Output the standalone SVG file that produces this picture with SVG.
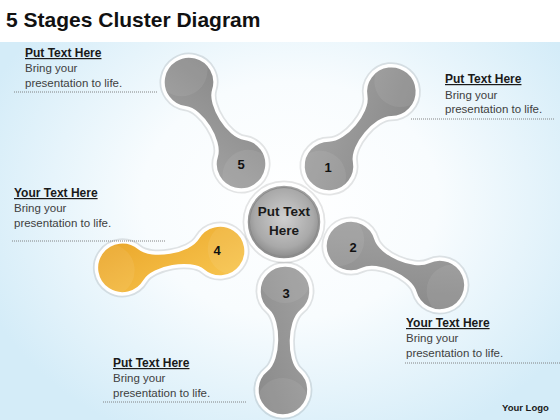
<svg xmlns="http://www.w3.org/2000/svg" width="560" height="420" viewBox="0 0 560 420">
  <defs>
    <radialGradient id="bg" cx="290" cy="200" r="330" gradientUnits="userSpaceOnUse" gradientTransform="translate(290 200) scale(1 0.8) translate(-290 -200)">
      <stop offset="0" stop-color="#ffffff"/>
      <stop offset="0.45" stop-color="#f8fcfe"/>
      <stop offset="1" stop-color="#d4ecf8"/>
    </radialGradient>
    <linearGradient id="gray" x1="0" y1="0" x2="1" y2="1">
      <stop offset="0" stop-color="#a2a2a2"/>
      <stop offset="1" stop-color="#898989"/>
    </linearGradient>
    <linearGradient id="gold" x1="0" y1="0" x2="1" y2="1">
      <stop offset="0" stop-color="#f8c650"/>
      <stop offset="1" stop-color="#eaa62a"/>
    </linearGradient>
    <radialGradient id="hub" cx="0.5" cy="0.45" r="0.55">
      <stop offset="0" stop-color="#cfcfcf"/>
      <stop offset="0.7" stop-color="#a9a9a9"/>
      <stop offset="1" stop-color="#858585"/>
    </radialGradient>
    <path id="db97" d="M19.9,-16.7 C30.2,-4.4 66.8,-4.4 77.1,-16.7 A26 26 0 1 1 77.1,16.7 C66.8,4.4 30.2,4.4 19.9,16.7 A26 26 0 1 1 19.9,-16.7 Z"/>
    <path id="db99" d="M19.9,-16.7 C30.2,-4.4 68.8,-4.4 79.1,-16.7 A26 26 0 1 1 79.1,16.7 C68.8,4.4 30.2,4.4 19.9,16.7 A26 26 0 1 1 19.9,-16.7 Z"/>
    <path id="hl97" d="M104,-25.04 A26 26 0 0 1 104,25.04 A26 26 0 0 1 104,-25.04 Z M-7,-25.04 A26 26 0 0 0 -7,25.04 A26 26 0 0 0 -7,-25.04 Z"/>
    <path id="hl99" d="M106,-25.04 A26 26 0 0 1 106,25.04 A26 26 0 0 1 106,-25.04 Z M-7,-25.04 A26 26 0 0 0 -7,25.04 A26 26 0 0 0 -7,-25.04 Z"/>
  </defs>
  <style>
    .shadow{fill:none;stroke:#000;stroke-opacity:0.10;stroke-width:7}
    .rim{stroke:#ffffff;stroke-width:3.5}
    .g{fill:url(#gray)}
    .y{fill:url(#gold)}
    .hl{fill:#ffffff;fill-opacity:0.07}
    .num{font-family:"Liberation Sans",Arial,sans-serif;font-weight:bold;font-size:13px;fill:#111;text-anchor:middle}
    .hd{font-family:"Liberation Sans",Arial,sans-serif;font-weight:bold;font-size:12px;fill:#1a1a1a;text-decoration:underline}
    .bd{font-family:"Liberation Sans",Arial,sans-serif;font-size:11.5px;fill:#404040}
    .dot{stroke:#777;stroke-width:0.9;stroke-dasharray:1 1;fill:none}
  </style>

  <rect width="560" height="420" fill="url(#bg)"/>
  <rect width="560" height="42" fill="#ffffff"/>
  <text x="6" y="27" font-family="'Liberation Sans',Arial,sans-serif" font-weight="bold" font-size="21" fill="#111">5 Stages Cluster Diagram</text>

  <g id="connectors"/>

  <g id="node-1" transform="translate(329 166) rotate(-50)">
    <use href="#db97" class="shadow"/>
    <use href="#db97" class="g rim"/>
    <use href="#hl97" class="hl"/>
  </g>
  <g id="node-2" transform="translate(351 246) rotate(23.7)">
    <use href="#db97" class="shadow"/>
    <use href="#db97" class="g rim"/>
    <use href="#hl97" class="hl"/>
  </g>
  <g id="node-3" transform="translate(285 291) rotate(91.2)">
    <use href="#db99" class="shadow"/>
    <use href="#db99" class="g rim"/>
    <use href="#hl99" class="hl"/>
  </g>
  <g id="node-4" transform="translate(220 251) rotate(170.2)">
    <use href="#db99" class="shadow"/>
    <use href="#db99" class="y rim"/>
    <use href="#hl99" class="hl"/>
  </g>
  <g id="node-5" transform="translate(241 164) rotate(-122.4)">
    <use href="#db97" class="shadow"/>
    <use href="#db97" class="g rim"/>
    <use href="#hl97" class="hl"/>
  </g>

  <g id="labels-num">
    <text class="num" x="328" y="172">1</text>
    <text class="num" x="353" y="252">2</text>
    <text class="num" x="286" y="298">3</text>
    <text class="num" x="217" y="255">4</text>
    <text class="num" x="241" y="169">5</text>
  </g>

  <g id="node-center">
    <circle cx="284" cy="222" r="38" fill="none" stroke="#000" stroke-opacity="0.1" stroke-width="7"/>
    <circle cx="284" cy="222" r="38" fill="url(#hub)" stroke="#ffffff" stroke-width="3.5"/>
    <circle cx="284" cy="222" r="34.5" fill="none" stroke="#8a8a8a" stroke-width="1"/>
    <text x="284" y="216" font-family="'Liberation Sans',Arial,sans-serif" font-weight="bold" font-size="13.5" fill="#1a1a1a" text-anchor="middle">Put Text</text>
    <text x="284" y="235" font-family="'Liberation Sans',Arial,sans-serif" font-weight="bold" font-size="13.5" fill="#1a1a1a" text-anchor="middle">Here</text>
  </g>

  <g id="text-top-left">
    <text class="hd" x="25" y="57">Put Text Here</text>
    <text class="bd" x="25" y="72">Bring your</text>
    <text class="bd" x="25" y="87">presentation to life.</text>
    <line class="dot" x1="14" y1="92" x2="158" y2="92"/>
  </g>
  <g id="text-top-right">
    <text class="hd" x="445" y="83">Put Text Here</text>
    <text class="bd" x="445" y="99">Bring your</text>
    <text class="bd" x="445" y="113">presentation to life.</text>
    <line class="dot" x1="411" y1="119" x2="555" y2="119"/>
  </g>
  <g id="text-left">
    <text class="hd" x="14" y="197">Your Text Here</text>
    <text class="bd" x="14" y="212">Bring your</text>
    <text class="bd" x="14" y="227">presentation to life.</text>
    <line class="dot" x1="12" y1="241" x2="166" y2="241"/>
  </g>
  <g id="text-bottom-left">
    <text class="hd" x="113" y="367">Put Text Here</text>
    <text class="bd" x="113" y="382">Bring your</text>
    <text class="bd" x="113" y="397">presentation to life.</text>
    <line class="dot" x1="103" y1="402" x2="246" y2="402"/>
  </g>
  <g id="text-bottom-right">
    <text class="hd" x="406" y="327">Your Text Here</text>
    <text class="bd" x="406" y="342">Bring your</text>
    <text class="bd" x="406" y="357">presentation to life.</text>
    <line class="dot" x1="405" y1="363" x2="560" y2="363"/>
  </g>
  <text x="502" y="411" font-family="'Liberation Sans',Arial,sans-serif" font-weight="bold" font-size="9.5" fill="#1a1a1a">Your Logo</text>
</svg>
